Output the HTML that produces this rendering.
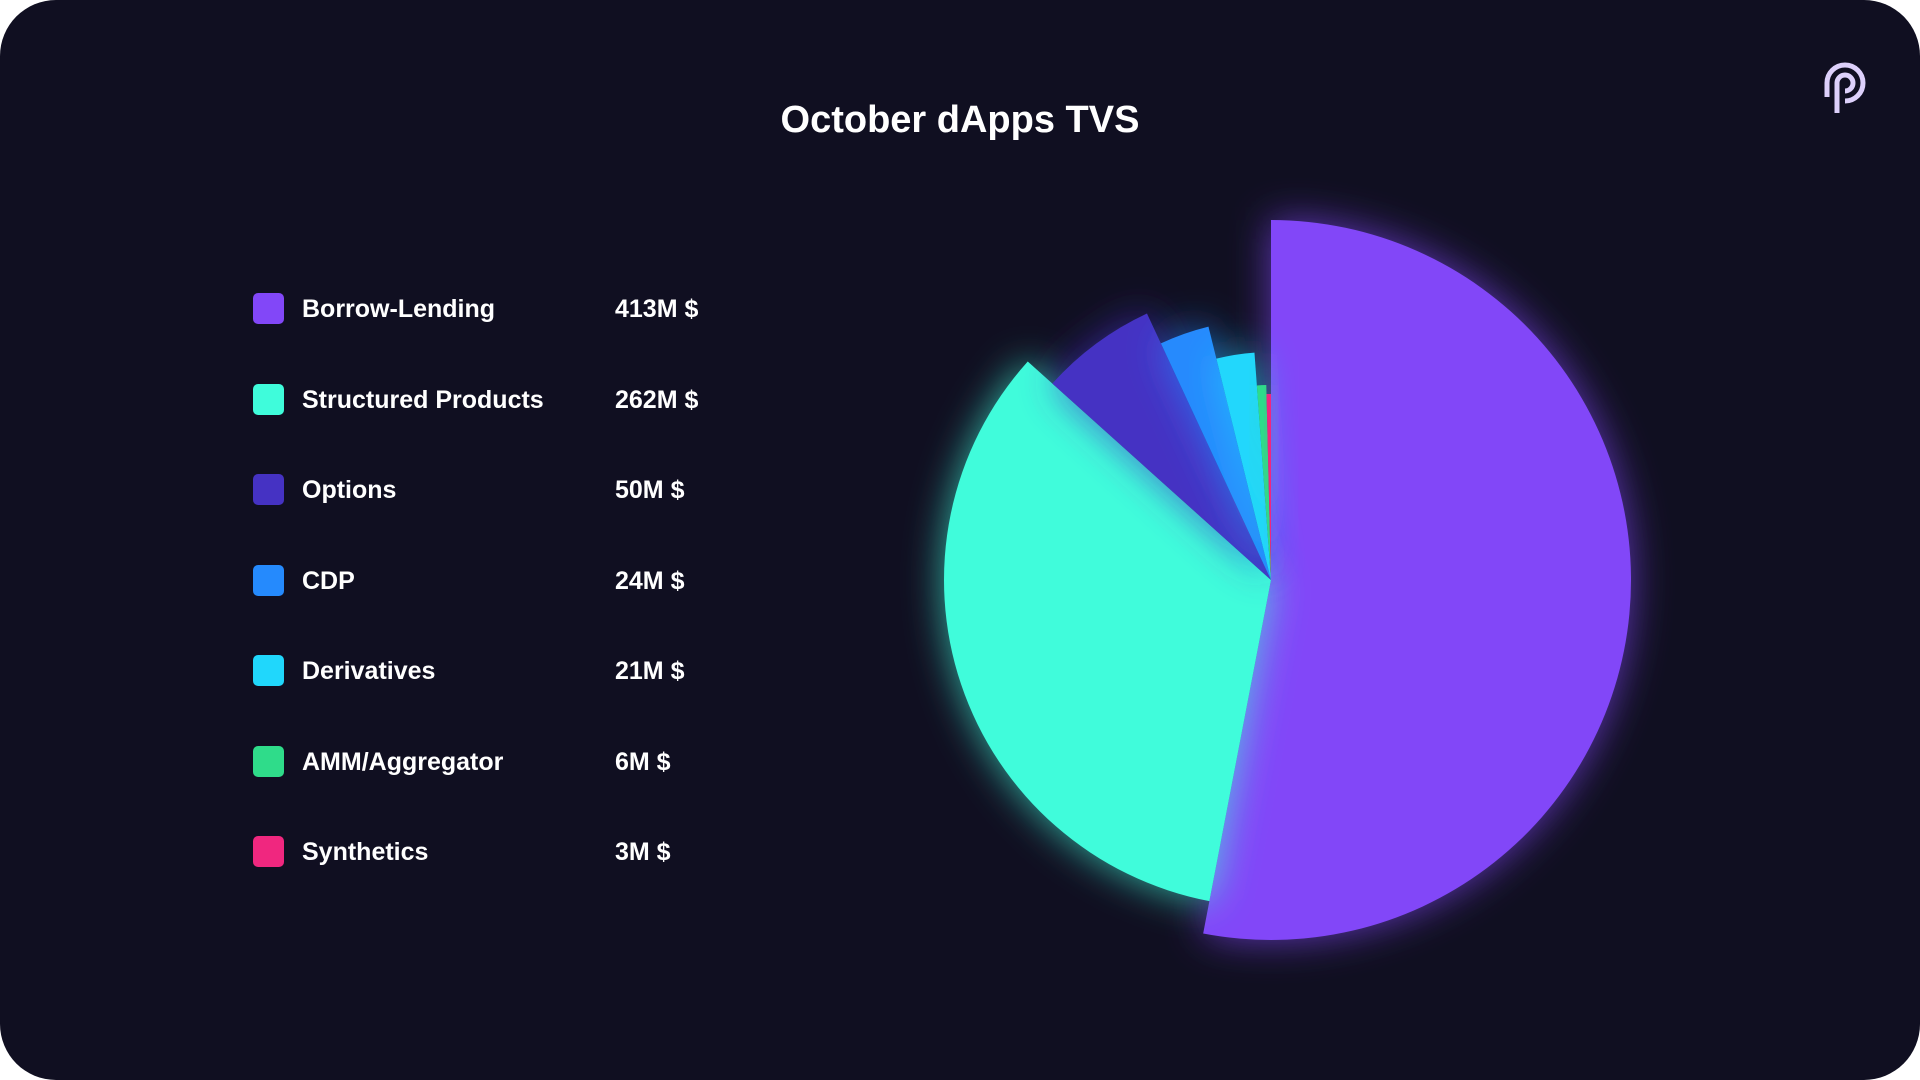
<!DOCTYPE html>
<html><head><meta charset="utf-8"><style>
html,body{margin:0;padding:0;background:#fff;}
#card{position:absolute;left:0;top:0;width:1920px;height:1080px;background:#100f21;border-radius:56px;overflow:hidden;font-family:"Liberation Sans",sans-serif;color:#fff;}
#title{position:absolute;left:0;width:1920px;top:99px;text-align:center;font-size:38px;font-weight:bold;}
.row{position:absolute;left:253px;height:32px;}
.sw{position:absolute;left:0;top:0;width:31px;height:31px;border-radius:5px;}
.lab{position:absolute;left:49px;top:0;line-height:32px;font-size:25px;font-weight:bold;white-space:nowrap;}
.val{position:absolute;left:362px;top:0;line-height:32px;font-size:25px;font-weight:bold;white-space:nowrap;}
</style></head><body>
<div id="card">
<div id="title">October dApps TVS</div>
<div id="legend"></div>
<svg id="pie" width="1920" height="1080" style="position:absolute;left:0;top:0">
<defs>
<filter id="glow" x="-50%" y="-50%" width="200%" height="200%"><feGaussianBlur in="SourceGraphic" stdDeviation="20" result="b"/><feComponentTransfer in="b" result="c"><feFuncA type="linear" slope="0.7"/></feComponentTransfer><feMerge><feMergeNode in="c"/><feMergeNode in="SourceGraphic"/></feMerge></filter>
</defs>
<g id="slices"></g>
</svg>
<svg width="60" height="64" viewBox="0 0 60 64" style="position:absolute;left:1815px;top:55px">
<path d="M12 42 V28 A18 18 0 1 1 30 46" fill="none" stroke="#ddd0fb" stroke-width="5"/>
<path d="M22 58 V28 A8 8 0 1 1 30 36" fill="none" stroke="#ddd0fb" stroke-width="5"/>
</svg>
</div>
<script>
const categories=["Borrow-Lending","Structured Products","Options","CDP","Derivatives","AMM/Aggregator","Synthetics"];
const values=[413,262,50,24,21,6,3];
const valueLabels=["413M $","262M $","50M $","24M $","21M $","6M $","3M $"];
const colors=["#8247f8","#3ffcdb","#4532c3","#258afd","#20d7fc","#2fdc8a","#f0277f"];
const cx=1271,cy=580,rMax=360,rStep=33,rMin=186;
const legend=document.getElementById('legend');
categories.forEach((c,i)=>{
  const row=document.createElement('div');row.className='row';row.style.top=(293+i*90.5)+'px';
  
  
  row.innerHTML='<div class="sw" style="background:'+colors[i]+'"></div><div class="lab">'+c+'</div><div class="val">'+valueLabels[i]+'</div>';
  legend.appendChild(row);
});
const total=values.reduce((a,b)=>a+b,0);
const g=document.getElementById('slices');
let a0=0;
values.forEach((v,i)=>{
  const a1=a0+v/total*2*Math.PI;
  const r=Math.max(rMin,rMax-rStep*i);
  const p=(a)=>[cx+r*Math.sin(a),cy-r*Math.cos(a)];
  const s=p(a0),e=p(a1);
  const large=(a1-a0)>Math.PI?1:0;
  const path=document.createElementNS('http://www.w3.org/2000/svg','path');
  path.setAttribute('d','M'+cx+' '+cy+' L'+s[0]+' '+s[1]+' A'+r+' '+r+' 0 '+large+' 1 '+e[0]+' '+e[1]+' Z');
  path.setAttribute('fill',colors[i]);
  path.setAttribute('filter','url(#glow)');
  
  
  g.appendChild(path);
  a0=a1;
});
</script>
</body></html>
